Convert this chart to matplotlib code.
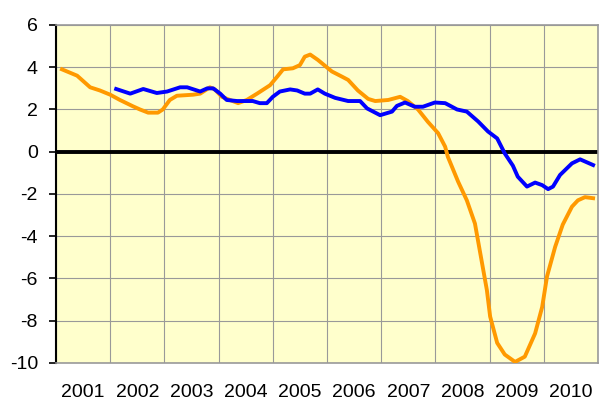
import numpy as np
import matplotlib
matplotlib.use("Agg")
import matplotlib.pyplot as plt

plt.rcParams['font.family'] = ['Liberation Sans', 'DejaVu Sans']
plt.rcParams['axes.unicode_minus'] = False

# orange series (decimal year, value)
orange_t = [2001.11, 2001.39, 2001.63, 2001.81, 2002.0, 2002.18, 2002.42, 2002.55, 2002.70, 2002.88,
            2002.97, 2003.10, 2003.23, 2003.53, 2003.66, 2003.84, 2003.93, 2004.06, 2004.21, 2004.36,
            2004.52, 2004.71, 2004.95, 2005.08, 2005.19, 2005.37, 2005.50, 2005.59, 2005.69, 2005.83,
            2006.09, 2006.28, 2006.39, 2006.57, 2006.76, 2006.89, 2007.13, 2007.35, 2007.49, 2007.68,
            2007.86, 2008.05, 2008.18, 2008.23, 2008.42, 2008.58, 2008.73, 2008.95, 2009.01, 2009.14,
            2009.28, 2009.47, 2009.65, 2009.84, 2009.97, 2010.06, 2010.21, 2010.35, 2010.52, 2010.63,
            2010.76, 2010.91]
orange_v = [3.9, 3.6, 3.05, 2.9, 2.7, 2.45, 2.15, 2.0, 1.85, 1.85,
            2.0, 2.45, 2.65, 2.7, 2.75, 3.05, 2.95, 2.6, 2.45, 2.3,
            2.45, 2.75, 3.15, 3.55, 3.9, 3.95, 4.1, 4.5, 4.6, 4.35,
            3.8, 3.55, 3.4, 2.9, 2.5, 2.4, 2.45, 2.6, 2.4, 2.0,
            1.42, 0.88, 0.24, -0.24, -1.42, -2.3, -3.4, -6.55, -7.8, -9.05,
            -9.6, -9.95, -9.7, -8.6, -7.35, -5.9, -4.5, -3.45, -2.6, -2.3,
            -2.15, -2.2]

# blue series
blue_t = [2002.11, 2002.37, 2002.61, 2002.86, 2003.05, 2003.29, 2003.42, 2003.66, 2003.79, 2003.90,
          2004.03, 2004.15, 2004.34, 2004.63, 2004.76, 2004.89, 2005.0, 2005.13, 2005.32, 2005.45,
          2005.59, 2005.69, 2005.83, 2005.96, 2006.15, 2006.39, 2006.61, 2006.74, 2006.98, 2007.2,
          2007.29, 2007.44, 2007.62, 2007.77, 2007.99, 2008.18, 2008.4, 2008.58, 2008.79, 2008.97,
          2009.14, 2009.28, 2009.43, 2009.52, 2009.69, 2009.84, 2009.97, 2010.08, 2010.17, 2010.3,
          2010.52, 2010.67, 2010.91]
blue_v = [2.97, 2.75, 2.97, 2.78, 2.85, 3.05, 3.05, 2.85, 3.0, 3.0,
          2.75, 2.45, 2.4, 2.4, 2.3, 2.3, 2.6, 2.85, 2.95, 2.9,
          2.75, 2.75, 2.95, 2.75, 2.55, 2.4, 2.4, 2.05, 1.73, 1.9,
          2.17, 2.33, 2.13, 2.13, 2.33, 2.3, 2.0, 1.9, 1.43, 0.96,
          0.63, -0.08, -0.66, -1.18, -1.65, -1.46, -1.58, -1.77, -1.65, -1.1,
          -0.55, -0.36, -0.63]

years = list(range(2001, 2011))

fig = plt.figure(figsize=(6.1, 4.03), dpi=100)
ax = fig.add_axes([0.0918, 0.0993, 0.8885, 0.8387])
ax.set_facecolor('#FFFFCC')

ax.set_xlim(2001, 2011)
ax.set_ylim(-10, 6)
ax.set_yticks(np.arange(-10, 7, 2))
ax.set_xticks(range(2001, 2012))
ax.set_xticklabels([])
ax.set_xticks([y + 0.5 for y in years], minor=True)
ax.set_xticklabels([str(y) for y in years], minor=True)
ax.tick_params(axis='x', which='both', length=0, labelsize=14, pad=15)
ax.tick_params(axis='y', length=5, width=1.2, labelsize=14, pad=8)

ax.grid(True, which='major', color='#999999', linewidth=0.8)
ax.set_axisbelow(True)

for s in ['top', 'right', 'bottom']:
    ax.spines[s].set_color('#999999')
    ax.spines[s].set_linewidth(1.2)
ax.spines['left'].set_color('black')
ax.spines['left'].set_linewidth(1.5)

ax.axhline(0, color='black', linewidth=2.8, zorder=2)
ax.plot(orange_t, orange_v, color='#FF9900', linewidth=2.8, zorder=3)
ax.plot(blue_t, blue_v, color='#0000FF', linewidth=2.8, zorder=4)

fig.savefig('out.png', dpi=100)
